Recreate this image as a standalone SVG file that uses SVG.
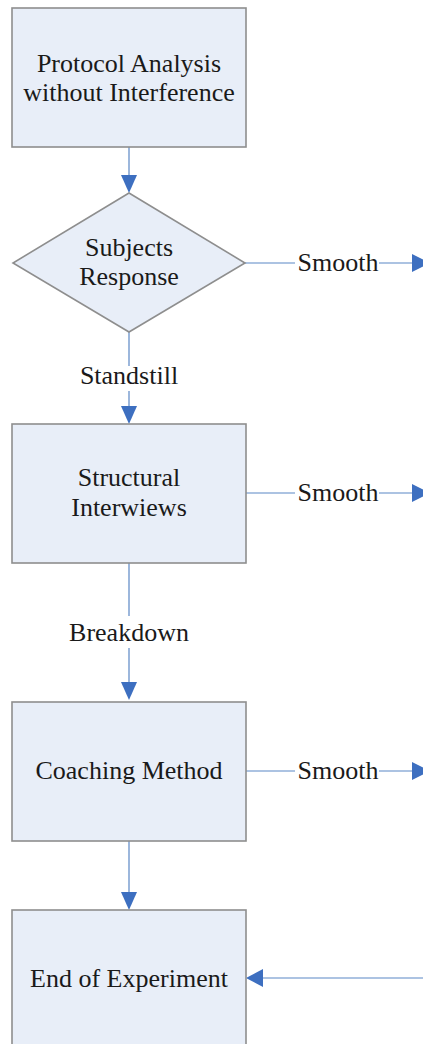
<svg xmlns="http://www.w3.org/2000/svg" width="423" height="1044" viewBox="0 0 423 1044">
<style>
.box{fill:#e8eef8;stroke:#8e8e8e;stroke-width:1.6}
.t{font-family:"Liberation Serif","Times New Roman",serif;font-size:26px;fill:#1a1a1a;text-anchor:middle}
.ln{stroke:#5b87c5;stroke-width:1.2;fill:none}
.ah{fill:#3d6fc0}
</style>
<rect width="423" height="1044" fill="#ffffff"/>
<g id="connectors">
  <line class="ln" x1="129" y1="147" x2="129" y2="176"/>
  <polygon class="ah" points="121,175 137,175 129,193"/>
  <line class="ln" x1="245" y1="263" x2="295" y2="263"/>
  <line class="ln" x1="379" y1="263" x2="413" y2="263"/>
  <polygon class="ah" points="412,254 412,272 430,263"/>
  <text class="t" x="338" y="271">Smooth</text>
  <line class="ln" x1="129" y1="332" x2="129" y2="366"/>
  <line class="ln" x1="129" y1="391" x2="129" y2="407"/>
  <polygon class="ah" points="121,406 137,406 129,424"/>
  <text class="t" x="129" y="384">Standstill</text>
  <line class="ln" x1="246" y1="493" x2="295" y2="493"/>
  <line class="ln" x1="379" y1="493" x2="413" y2="493"/>
  <polygon class="ah" points="412,484 412,502 430,493"/>
  <text class="t" x="338" y="501">Smooth</text>
  <line class="ln" x1="129" y1="563" x2="129" y2="616"/>
  <line class="ln" x1="129" y1="648" x2="129" y2="683"/>
  <polygon class="ah" points="121,682 137,682 129,700"/>
  <text class="t" x="129" y="641">Breakdown</text>
  <line class="ln" x1="246" y1="771" x2="295" y2="771"/>
  <line class="ln" x1="379" y1="771" x2="413" y2="771"/>
  <polygon class="ah" points="412,762 412,780 430,771"/>
  <text class="t" x="338" y="779">Smooth</text>
  <line class="ln" x1="129" y1="841" x2="129" y2="893"/>
  <polygon class="ah" points="121,892 137,892 129,910"/>
  <line class="ln" x1="262" y1="978" x2="423" y2="978"/>
  <polygon class="ah" points="263,969 263,987 246,978"/>
</g>
<g id="n1">
  <rect class="box" x="12" y="8" width="234" height="139"/>
  <text class="t" x="129" y="72">Protocol Analysis</text>
  <text class="t" x="129" y="101">without Interference</text>
</g>
<g id="n2">
  <polygon class="box" points="129,193 245,263 129,332 13,263"/>
  <text class="t" x="129" y="256">Subjects</text>
  <text class="t" x="129" y="285">Response</text>
</g>
<g id="n3">
  <rect class="box" x="12" y="424" width="234" height="139"/>
  <text class="t" x="129" y="486">Structural</text>
  <text class="t" x="129" y="516">Interwiews</text>
</g>
<g id="n4">
  <rect class="box" x="12" y="702" width="234" height="139"/>
  <text class="t" x="129" y="779">Coaching Method</text>
</g>
<g id="n5">
  <rect class="box" x="12" y="910" width="234" height="140"/>
  <text class="t" x="129" y="987">End of Experiment</text>
</g>
</svg>
